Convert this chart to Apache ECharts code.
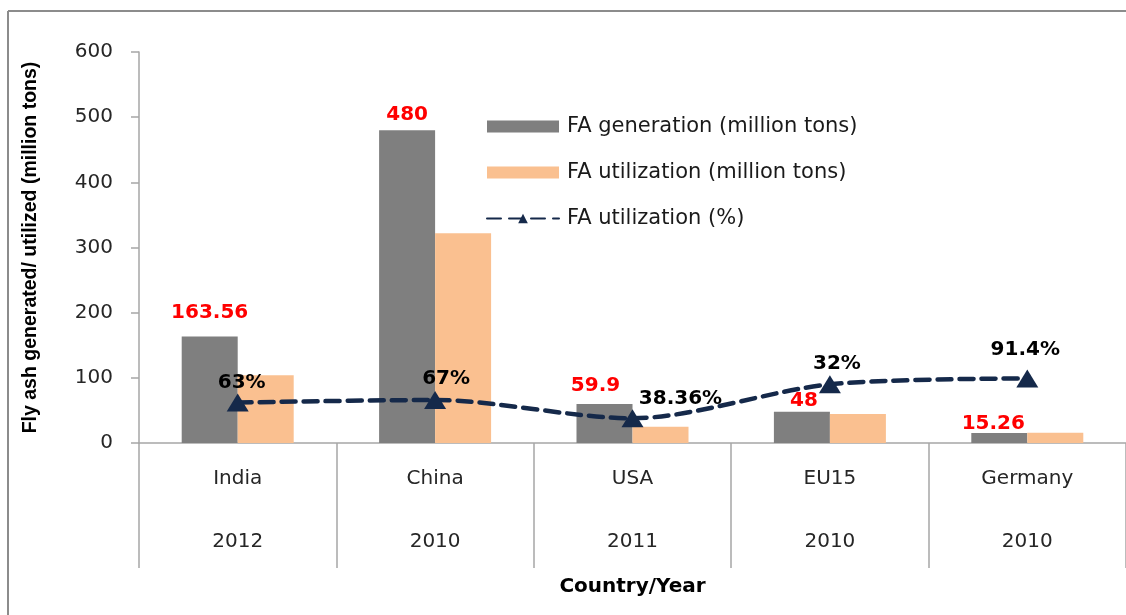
<!DOCTYPE html>
<html>
<head>
<meta charset="utf-8">
<script src="https://cdn.jsdelivr.net/npm/echarts@6/dist/echarts.min.js"></script>
<style>
    html, body { margin: 0; padding: 0; background: #fff; overflow: hidden; }
    #chart { width: 1126px; height: 615px; }
</style>
</head>
<body>
<div id="chart"></div>
<script>
const countries = ["India", "China", "USA", "EU15", "Germany"];
const years = ["2012", "2010", "2011", "2010", "2010"];
const generation = [163.56, 480, 59.9, 48, 15.26];
const utilization = [104, 322, 25, 44.5, 15.8];
const utilPct = [62, 66, 38, 90, 99];
const genLabels = ["163.56", "480", "59.9", "48", "15.26"];
const pctLabels = ["63%", "67%", "38.36%", "32%", "91.4%"];

// label nudges so they sit where the original put them
const genOffsets = [[0, -14], [0, -5], [-9, -8], [2, -1], [-6, 1]];
const pctOffsets = [[4, -1], [11, -2], [48, 0], [7, -2], [-2, -10]];

document.addEventListener("DOMContentLoaded", function () {
    const chart = echarts.init(document.querySelector("#chart"));
    const font = "DejaVu Sans";

    const genData = generation.map((v, i) => ({
        value: v,
        label: { formatter: genLabels[i], offset: genOffsets[i] }
    }));
    const pctData = utilPct.map((v, i) => ({
        value: v,
        label: { formatter: pctLabels[i], offset: pctOffsets[i] }
    }));

    const frame = { stroke: "#8c8c8c", lineWidth: 2 };
    const options = {
        animation: false,
        backgroundColor: "#fff",
        textStyle: { fontFamily: font },
        graphic: [
            { type: "line", silent: true, shape: { x1: 8, y1: 11, x2: 1130, y2: 11 }, style: frame },
            { type: "line", silent: true, shape: { x1: 8, y1: 11, x2: 8, y2: 620 }, style: frame }
        ],
        grid: { left: 139, right: -3, top: 52, bottom: 172 },
        legend: {
            orient: "vertical",
            left: 481,
            top: 111,
            itemWidth: 72,
            itemHeight: 12,
            itemGap: 25,
            textStyle: {
                fontFamily: font,
                fontSize: 21,
                lineHeight: 21,
                color: "#1a1a1a",
                padding: [0, 0, 0, 3]
            },
            data: [
                { name: "FA generation (million tons)", icon: "rect" },
                { name: "FA utilization (million tons)", icon: "rect" },
                { name: "FA utilization (%)" }
            ]
        },
        xAxis: {
            type: "category",
            data: countries,
            name: "Country/Year",
            nameLocation: "middle",
            nameGap: 134,
            nameTextStyle: { fontFamily: font, fontSize: 20, fontWeight: "bold", color: "#000" },
            axisLine: { lineStyle: { color: "#a6a6a6", width: 1.5 } },
            axisTick: { show: true, length: 125, lineStyle: { color: "#a6a6a6", width: 1.5 } },
            axisLabel: {
                margin: 4,
                interval: 0,
                formatter: (v, i) => "{c|" + v + "}\n{y|" + years[i] + "}",
                rich: {
                    c: { fontFamily: font, fontSize: 20, lineHeight: 63, color: "#262626" },
                    y: { fontFamily: font, fontSize: 20, lineHeight: 63, color: "#262626" }
                }
            }
        },
        yAxis: {
            type: "value",
            min: 0,
            max: 600,
            interval: 100,
            name: "Fly ash generated/ utilized (million tons)",
            nameLocation: "middle",
            nameGap: 98,
            nameRotate: 90,
            nameTextStyle: { fontFamily: "Liberation Sans", fontSize: 19.5, fontWeight: "bold", color: "#000" },
            axisLine: { show: true, lineStyle: { color: "#a6a6a6", width: 1.5 } },
            axisTick: { show: true, length: 8, lineStyle: { color: "#a6a6a6", width: 1.5 } },
            splitLine: { show: false },
            axisLabel: { margin: 26, fontFamily: font, fontSize: 20, color: "#262626" }
        },
        series: [
            {
                name: "FA generation (million tons)",
                type: "bar",
                data: genData,
                barWidth: 56,
                barGap: "0%",
                itemStyle: { color: "#7f7f7f" },
                label: {
                    show: true,
                    position: "top",
                    distance: 0,
                    color: "#ff0000",
                    fontFamily: font,
                    fontSize: 20,
                    fontWeight: "bold"
                }
            },
            {
                name: "FA utilization (million tons)",
                type: "bar",
                data: utilization,
                barWidth: 56,
                barGap: "0%",
                itemStyle: { color: "#fac090" }
            },
            {
                name: "FA utilization (%)",
                type: "line",
                data: pctData,
                smooth: 0.3,
                symbol: "triangle",
                symbolSize: [22, 18],
                itemStyle: { color: "#15294a" },
                lineStyle: { color: "#15294a", width: 4.5, type: [14, 8], cap: "round" },
                label: {
                    show: true,
                    position: "top",
                    distance: 0,
                    color: "#000",
                    fontFamily: font,
                    fontSize: 20,
                    fontWeight: "bold"
                },
                z: 5
            }
        ]
    };
    chart.setOption(options);
});
</script>
</body>
</html>
